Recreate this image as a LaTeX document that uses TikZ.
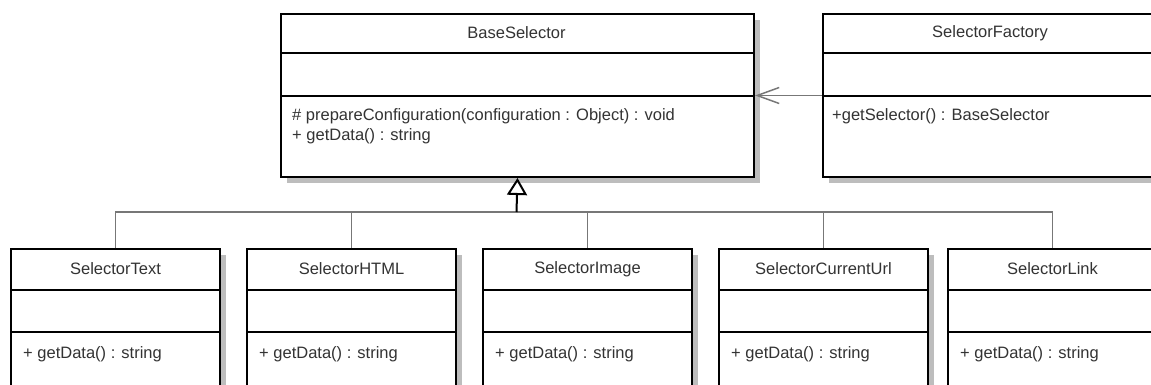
\documentclass[tikz,border=0pt]{standalone}
\usepackage{fontspec}
\setmainfont{Liberation Sans}
\usetikzlibrary{arrows.meta,shadows}

\definecolor{txtgray}{HTML}{333333}
\definecolor{linegray}{HTML}{777777}
\definecolor{shadegray}{HTML}{BDBDBD}

\tikzset{
  cls/.style={draw=black, line width=2pt, fill=white, anchor=north west, inner sep=0pt,
    drop shadow={shadow xshift=6pt, shadow yshift=-6pt, fill=shadegray, opacity=1}},
  clsname/.style={text=txtgray, font=\fontsize{16.5}{20}\selectfont, inner sep=0pt},
  member/.style={text=txtgray, font=\fontsize{16.5}{20}\selectfont, anchor=base west, inner sep=0pt},
  part/.style={line width=2pt},
  inherit/.style={draw=linegray, line width=1.5pt},
  extends/.style={draw=black, line width=2pt, -{Triangle[fill=white, length=17pt, width=20pt]}},
  uses/.style={draw=linegray, line width=1.5pt, -{Straight Barb[length=22pt, width=16pt]}}
}

\begin{document}
\begin{tikzpicture}[x=1pt, y=-1pt]
\useasboundingbox (0,0) rectangle (1151,385);
\clip (0,0) rectangle (1151,385);

% parent class
\node[cls, minimum width=473pt, minimum height=163pt] (base) at (280,13) {};
\draw[part] (280,53) -- (753,53);
\draw[part] (280,96) -- (753,96);
\node[clsname] (base title) at (516.5,33) {BaseSelector};
\node[member] (base op1) at (292,121) {\# prepareConfiguration(configuration : Object) : void};
\node[member] (base op2) at (292,141) {+ getData() : string};

% factory
\node[cls, minimum width=336pt, minimum height=163pt] (factory) at (822,13) {};
\draw[part] (822,53) -- (1158,53);
\draw[part] (822,96) -- (1158,96);
\node[clsname] (factory title) at (990,33) {SelectorFactory};
\node[member] (factory op) at (832,121) {+getSelector() : BaseSelector};

% subclasses
\foreach \n/\x/\t in {text/10/SelectorText, html/246/SelectorHTML, image/482/SelectorImage,
                      url/718/SelectorCurrentUrl, link/947/SelectorLink} {
  \node[cls, minimum width=209pt, minimum height=163pt] (\n) at (\x,248) {};
  \draw[part] (\x,290) -- ++(209,0);
  \draw[part] (\x,332) -- ++(209,0);
  \path (\n.north) ++(0,21) node[clsname] (\n title) {\t};
  \path (\n.north west) ++(13,110) node[member] (\n op) {+ getData() : string};
}

\coordinate (hub) at (516.5,212);
\foreach \n in {text,html,image,url,link}
  \draw[inherit] (\n.north) |- (hub);
\draw[extends] (hub) -- (base.south);

\draw[uses] (factory.west) -- (base.east);
\end{tikzpicture}
\end{document}
